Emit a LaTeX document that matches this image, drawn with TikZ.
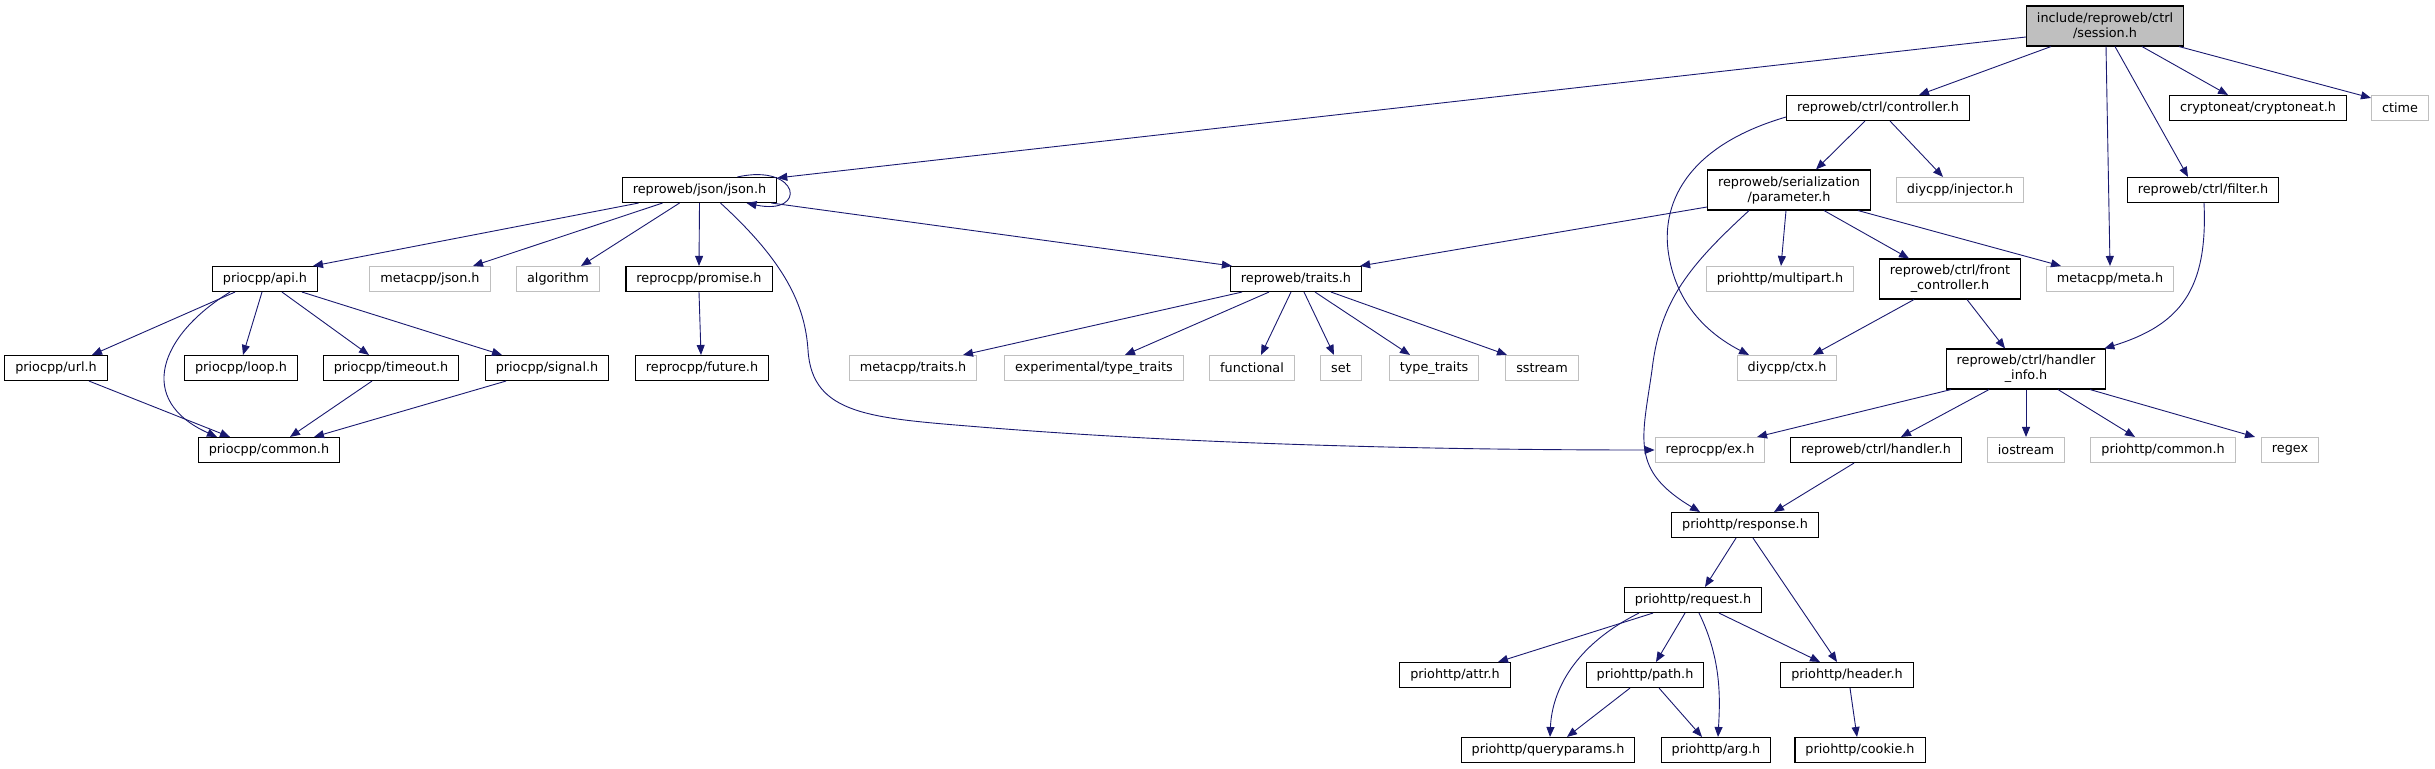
\documentclass[tikz,border=0pt]{standalone}
\usepackage{fontspec}
\setmainfont{DejaVu Sans}
\usetikzlibrary{arrows.meta}
\definecolor{edgeblue}{HTML}{191970}
\definecolor{extgray}{HTML}{BFBFBF}
\begin{document}
\begin{tikzpicture}[x=1pt,y=-1pt,
 box/.style={draw=black,line width=1.1pt,fill=white,inner xsep=10.5pt,inner ysep=0pt,minimum height=25pt,font=\fontsize{12.8}{15}\selectfont,align=center},
 ext/.style={box,draw=extgray},
 cur/.style={box,fill=extgray},
 twoline/.style={minimum height=40pt},
 dep/.style={draw=edgeblue,line width=0.9pt,-{Triangle[length=10pt,width=8pt]}}]
\useasboundingbox (0,0) rectangle (2435,768);
% row 0
\node[cur,twoline] (session) at (2105,26) {include/reproweb/ctrl\\/session.h};
% row 1
\node[box] (controller) at (1878,108) {reproweb/ctrl/controller.h};
\node[box] (crypto) at (2258,108) {cryptoneat/cryptoneat.h};
\node[ext] (ctime) at (2400,108) {ctime};
% row 2
\node[box] (json) at (699.5,190) {reproweb/json/json.h};
\node[box,twoline] (param) at (1789,190) {reproweb/serialization\\/parameter.h};
\node[ext] (injector) at (1960,190) {diycpp/injector.h};
\node[box] (filter) at (2203,190) {reproweb/ctrl/filter.h};
% row 3
\node[box] (api) at (265,279) {priocpp/api.h};
\node[ext] (mjson) at (430,279) {metacpp/json.h};
\node[ext] (algorithm) at (558,279) {algorithm};
\node[box] (promise) at (699,279) {reprocpp/promise.h};
\node[box] (traits) at (1296,279) {reproweb/traits.h};
\node[ext] (multipart) at (1780,279) {priohttp/multipart.h};
\node[box,twoline] (front) at (1950,279) {reproweb/ctrl/front\\\_controller.h};
\node[ext] (meta) at (2110,279) {metacpp/meta.h};
% row 4
\node[box] (url) at (56,368) {priocpp/url.h};
\node[box] (loop) at (241,368) {priocpp/loop.h};
\node[box] (timeout) at (391,368) {priocpp/timeout.h};
\node[box] (signal) at (547,368) {priocpp/signal.h};
\node[box] (future) at (702,368) {reprocpp/future.h};
\node[ext] (mtraits) at (913,368) {metacpp/traits.h};
\node[ext] (exptt) at (1094,368) {experimental/type\_traits};
\node[ext] (functional) at (1252,368) {functional};
\node[ext] (set) at (1341,368) {set};
\node[ext] (typetraits) at (1434,368) {type\_traits};
\node[ext] (sstream) at (1542,368) {sstream};
\node[ext] (ctx) at (1787,368) {diycpp/ctx.h};
\node[box,twoline] (hinfo) at (2026,369) {reproweb/ctrl/handler\\\_info.h};
% row 5
\node[box] (common) at (269,450) {priocpp/common.h};
\node[ext] (ex) at (1710,450) {reprocpp/ex.h};
\node[box] (handler) at (1876,450) {reproweb/ctrl/handler.h};
\node[ext] (iostream) at (2026,450) {iostream};
\node[ext] (pcommon) at (2163,450) {priohttp/common.h};
\node[ext] (regex) at (2290,450) {regex};
% row 6-9
\node[box] (response) at (1745,525) {priohttp/response.h};
\node[box] (request) at (1693,600) {priohttp/request.h};
\node[box] (attr) at (1455,675) {priohttp/attr.h};
\node[box] (path) at (1645,675) {priohttp/path.h};
\node[box] (header) at (1847,675) {priohttp/header.h};
\node[box] (qparams) at (1548,750) {priohttp/queryparams.h};
\node[box] (arg) at (1716,750) {priohttp/arg.h};
\node[box] (cookie) at (1860,750) {priohttp/cookie.h};

% edges from session
\draw[dep] ([yshift=-11pt]session.west) -- ([yshift=-1pt]json.north east);
\draw[dep] ([xshift=-54pt]session.south) -- ([xshift=41pt]controller.north);
\draw[dep] ([xshift=1pt]session.south) -- (meta.north);
\draw[dep] ([xshift=10pt]session.south) -- ([xshift=-15pt]filter.north);
\draw[dep] ([xshift=37pt]session.south) -- ([xshift=-30pt]crypto.north);
\draw[dep] ([xshift=74pt]session.south) -- ([yshift=-3pt]ctime.north west);
% json
\draw[dep] ([xshift=38pt]json.north) .. controls (800,163) and (808,216) .. ([xshift=47pt]json.south);
\draw[dep] ([xshift=-61pt]json.south) -- ([xshift=48pt]api.north);
\draw[dep] ([xshift=-37pt]json.south) -- ([xshift=43pt]mjson.north);
\draw[dep] ([xshift=-20pt]json.south) -- ([xshift=23pt]algorithm.north);
\draw[dep] (json.south) -- (promise.north);
\draw[dep] ([xshift=72pt]json.south) -- ([xshift=2pt]traits.north west);
\draw[dep] ([xshift=21pt]json.south) .. controls (785,262) and (805,305) .. (808,350)
  .. controls (812,415) and (870,418) .. (980,427) .. controls (1200,445) and (1450,450) .. (ex.west);
% api
\draw[dep] ([xshift=-30pt]api.south) -- ([xshift=36pt]url.north);
\draw[dep] ([xshift=-35pt]api.south) .. controls (160,335) and (135,400) .. ([xshift=-52pt]common.north);
\draw[dep] ([xshift=-3pt]api.south) -- ([xshift=2pt]loop.north);
\draw[dep] ([xshift=17pt]api.south) -- ([xshift=-22pt]timeout.north);
\draw[dep] ([xshift=37pt]api.south) -- ([xshift=-45pt]signal.north);
\draw[dep] ([xshift=33pt]url.south) -- ([xshift=-39pt]common.north);
\draw[dep] ([xshift=-19pt]timeout.south) -- ([xshift=21pt]common.north);
\draw[dep] ([xshift=-41pt]signal.south) -- ([xshift=45pt]common.north);
\draw[dep] (promise.south) -- ([xshift=-1pt]future.north);
% traits
\draw[dep] ([xshift=-54pt]traits.south) -- ([xshift=50pt]mtraits.north);
\draw[dep] ([xshift=-27pt]traits.south) -- ([xshift=31pt]exptt.north);
\draw[dep] ([xshift=-5pt]traits.south) -- ([xshift=9pt]functional.north);
\draw[dep] ([xshift=8pt]traits.south) -- ([xshift=-7pt]set.north);
\draw[dep] ([xshift=19pt]traits.south) -- ([xshift=-24pt]typetraits.north);
\draw[dep] ([xshift=35pt]traits.south) -- ([xshift=-35pt]sstream.north);
% controller
\draw[dep] ([xshift=-13pt]controller.south) -- ([xshift=27pt]param.north);
\draw[dep] ([xshift=12pt]controller.south) -- ([xshift=-17pt]injector.north);
\draw[dep] ([yshift=-9pt]controller.west) .. controls (1690,145) and (1662,200) .. (1668,250)
  .. controls (1675,305) and (1710,335) .. ([xshift=-38pt]ctx.north);
% parameter
\draw[dep] ([yshift=-17pt]param.west) -- ([xshift=-2pt]traits.north east);
\draw[dep] ([xshift=-3pt]param.south) -- ([xshift=1pt]multipart.north);
\draw[dep] ([xshift=35pt]param.south) -- ([xshift=-41pt]front.north);
\draw[dep] ([xshift=69pt]param.south) -- ([xshift=-49pt]meta.north);
\draw[dep] ([xshift=-40pt]param.south) .. controls (1690,265) and (1660,300) .. (1652,370)
  .. controls (1642,440) and (1630,470) .. ([xshift=-45pt]response.north);
% front controller, filter
\draw[dep] ([xshift=-36pt]front.south) -- ([xshift=26pt]ctx.north);
\draw[dep] ([xshift=17pt]front.south) -- ([xshift=-21pt]hinfo.north);
\draw[dep] ([xshift=1pt]filter.south) .. controls (2208,290) and (2180,325) .. ([xshift=-2pt]hinfo.north east);
% handler info
\draw[dep] ([xshift=-75pt]hinfo.south) -- ([xshift=47pt]ex.north);
\draw[dep] ([xshift=-37pt]hinfo.south) -- ([xshift=25pt]handler.north);
\draw[dep] (hinfo.south) -- (iostream.north);
\draw[dep] ([xshift=32pt]hinfo.south) -- ([xshift=-28pt]pcommon.north);
\draw[dep] ([xshift=64pt]hinfo.south) -- ([xshift=-35pt]regex.north);
% handler, response, request
\draw[dep] ([xshift=-22pt]handler.south) -- ([xshift=29pt]response.north);
\draw[dep] ([xshift=-9pt]response.south) -- ([xshift=12pt]request.north);
\draw[dep] ([xshift=8pt]response.south) -- ([xshift=-10pt]header.north);
\draw[dep] ([xshift=-40pt]request.south) -- ([xshift=43pt]attr.north);
\draw[dep] ([xshift=-54pt]request.south) .. controls (1575,645) and (1552,690) .. ([xshift=2pt]qparams.north);
\draw[dep] ([xshift=-8pt]request.south) -- ([xshift=11pt]path.north);
\draw[dep] ([xshift=6pt]request.south) .. controls (1722,660) and (1720,700) .. ([xshift=2pt]arg.north);
\draw[dep] ([xshift=26pt]request.south) -- ([xshift=-27pt]header.north);
\draw[dep] ([xshift=-15pt]path.south) -- ([xshift=19pt]qparams.north);
\draw[dep] ([xshift=14pt]path.south) -- ([xshift=-14pt]arg.north);
\draw[dep] ([xshift=3pt]header.south) -- ([xshift=-3pt]cookie.north);
\end{tikzpicture}
\end{document}
